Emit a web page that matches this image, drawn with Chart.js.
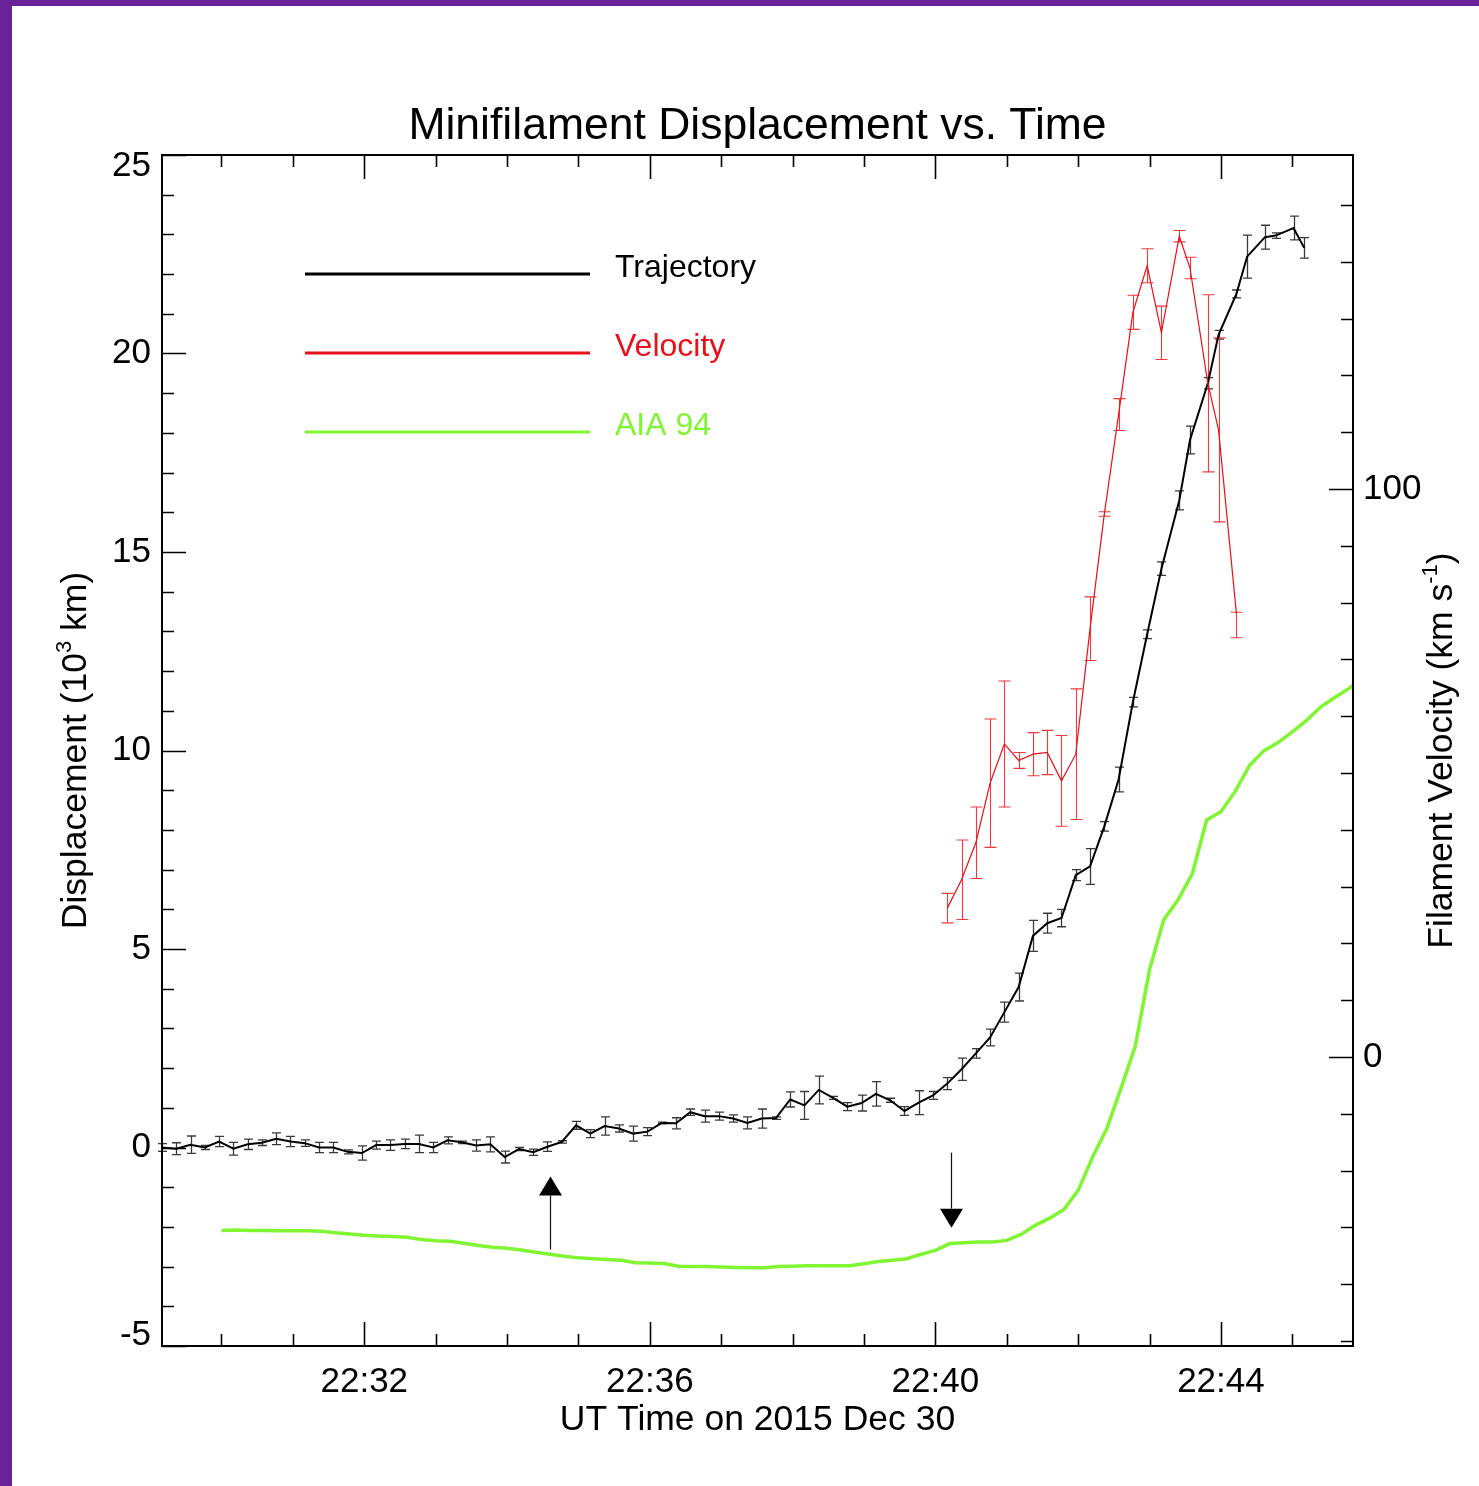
<!DOCTYPE html>
<html>
<head>
<meta charset="utf-8">
<title>Minifilament Displacement vs. Time</title>
<script src="https://cdn.jsdelivr.net/npm/chart.js@4.4.1/dist/chart.umd.min.js"></script>
<style>
  html, body { margin: 0; padding: 0; background: #ffffff; overflow: hidden; }
  canvas { display: block; }
</style>
</head>
<body>
<canvas id="chart" width="1479" height="1486"></canvas>
<script>
// Minifilament eruption of 2015 Dec 30: measured trajectory (with errors),
// derived velocity (with errors) and the AIA 94 light curve.

// ---- Trajectory (displacement in 10^3 km) ----
const trajTimes = [
  '22:29:10','22:29:22','22:29:34','22:29:46','22:29:58','22:30:10','22:30:22','22:30:34','22:30:46','22:30:58',
  '22:31:10','22:31:22','22:31:34','22:31:46','22:31:58','22:32:10','22:32:22','22:32:34','22:32:46','22:32:58',
  '22:33:10','22:33:22','22:33:34','22:33:46','22:33:58','22:34:10','22:34:22','22:34:34','22:34:46','22:34:58',
  '22:35:10','22:35:22','22:35:34','22:35:46','22:35:58','22:36:10','22:36:22','22:36:34','22:36:46','22:36:58',
  '22:37:10','22:37:22','22:37:34','22:37:46','22:37:58','22:38:10','22:38:22','22:38:34','22:38:46','22:38:58',
  '22:39:10','22:39:22','22:39:34','22:39:46','22:39:58','22:40:10','22:40:22','22:40:34','22:40:46','22:40:58',
  '22:41:10','22:41:22','22:41:34','22:41:46','22:41:58','22:42:10','22:42:22','22:42:34','22:42:46','22:42:58',
  '22:43:10','22:43:25','22:43:34','22:43:49','22:43:58','22:44:13','22:44:22','22:44:37','22:44:46','22:45:01',
  '22:45:10'
];
const trajDisp = [
   0.00, -0.03,  0.07,  0.00,  0.15, -0.03,  0.08,  0.12,  0.22,  0.15,
   0.11,  0.00,  0.00, -0.11, -0.14,  0.06,  0.06,  0.09,  0.09,  0.00,
   0.18,  0.13,  0.05,  0.08, -0.24, -0.04, -0.12,  0.02,  0.14,  0.56,
   0.35,  0.54,  0.48,  0.35,  0.40,  0.62,  0.61,  0.89,  0.79,  0.79,
   0.73,  0.62,  0.73,  0.74,  1.21,  1.06,  1.45,  1.25,  1.03,  1.12,
   1.35,  1.19,  0.92,  1.13,  1.31,  1.61,  1.97,  2.37,  2.77,  3.41,
   4.04,  5.33,  5.65,  5.78,  6.86,  7.08,  8.09,  9.27, 11.22, 12.93,
  14.58, 16.30, 17.82, 19.25, 20.47, 21.50, 22.44, 22.93, 22.97, 23.16,
  22.66
];
const trajErr = [
  0.10, 0.15, 0.22, 0.05, 0.13, 0.16, 0.13, 0.07, 0.15, 0.13,
  0.08, 0.13, 0.13, 0.05, 0.18, 0.10, 0.13, 0.12, 0.22, 0.13,
  0.09, 0.03, 0.14, 0.19, 0.15, 0.04, 0.08, 0.12, 0.03, 0.10,
  0.10, 0.23, 0.09, 0.19, 0.10, 0.02, 0.14, 0.08, 0.15, 0.10,
  0.09, 0.15, 0.24, 0.03, 0.19, 0.35, 0.35, 0.04, 0.10, 0.20,
  0.31, 0.05, 0.11, 0.30, 0.10, 0.15, 0.28, 0.12, 0.21, 0.25,
  0.35, 0.39, 0.25, 0.22, 0.14, 0.45, 0.12, 0.31, 0.12, 0.11,
  0.17, 0.24, 0.35, 0.14, 0.11, 0.10, 0.54, 0.30, 0.07, 0.30,
  0.26
];

// ---- Filament velocity (km/s) ----
const velTimes = [
  '22:40:10','22:40:22','22:40:34','22:40:46','22:40:58','22:41:10','22:41:22','22:41:34','22:41:46','22:41:58',
  '22:42:10','22:42:22','22:42:34','22:42:46','22:42:58','22:43:10','22:43:25','22:43:34','22:43:49','22:43:58',
  '22:44:13'
];
const velValues = [
   26.2,  31.2,  37.7,  48.2,  55.1,  52.2,  53.3,  53.6,  48.6,  53.3,
   75.4,  95.6, 113.1, 131.1, 139.3, 127.5, 144.5, 138.9, 118.6, 110.4,
   78.1
];
const velErrLow = [
   2.6,  7.0,  6.3, 11.3, 11.1,  1.4,  3.8,  3.9,  8.0, 11.5,
   5.6,  0.4,  2.8,  3.0,  3.0,  4.7,  1.0,  1.9, 15.6, 16.2,
   4.3
];
const velErrHigh = [
   2.6,  7.0,  6.3, 11.3, 11.1,  1.4,  3.8,  3.9,  8.0, 11.5,
   5.6,  0.4,  2.8,  3.0,  3.0,  4.7,  1.0,  1.9, 15.6, 16.2,
   0.2
];

// ---- AIA 94 light curve, scaled onto the displacement axis ----
const aiaTimes = [
  '22:30:00','22:30:12','22:30:24','22:30:36','22:30:48','22:31:00','22:31:12','22:31:24','22:31:36','22:31:48',
  '22:32:00','22:32:12','22:32:24','22:32:36','22:32:48','22:33:00','22:33:12','22:33:24','22:33:36','22:33:48',
  '22:34:00','22:34:12','22:34:24','22:34:36','22:34:48','22:35:00','22:35:12','22:35:24','22:35:36','22:35:48',
  '22:36:00','22:36:12','22:36:24','22:36:36','22:36:48','22:37:00','22:37:12','22:37:24','22:37:36','22:37:48',
  '22:38:00','22:38:12','22:38:24','22:38:36','22:38:48','22:39:00','22:39:12','22:39:24','22:39:36','22:39:48',
  '22:40:00','22:40:12','22:40:24','22:40:36','22:40:48','22:41:00','22:41:12','22:41:24','22:41:36','22:41:48',
  '22:42:00','22:42:12','22:42:24','22:42:36','22:42:48','22:43:00','22:43:12','22:43:24','22:43:36','22:43:48',
  '22:44:00','22:44:12','22:44:24','22:44:36','22:44:48','22:45:00','22:45:12','22:45:24','22:45:36','22:45:48',
  '22:46:00'
];
const aiaCurve = [
  -2.09, -2.08, -2.09, -2.09, -2.10, -2.10, -2.10, -2.11, -2.15, -2.18,
  -2.21, -2.23, -2.24, -2.26, -2.32, -2.35, -2.36, -2.41, -2.47, -2.51,
  -2.54, -2.58, -2.64, -2.69, -2.74, -2.78, -2.80, -2.82, -2.84, -2.90,
  -2.91, -2.92, -2.99, -3.00, -3.00, -3.01, -3.02, -3.03, -3.03, -3.00,
  -2.99, -2.98, -2.98, -2.98, -2.98, -2.93, -2.87, -2.84, -2.80, -2.69,
  -2.59, -2.42, -2.40, -2.38, -2.38, -2.34, -2.19, -1.96, -1.78, -1.56,
  -1.08, -0.25,  0.47,  1.49,  2.55,  4.48,  5.74,  6.24,  6.90,  8.25,
   8.46,  8.97,  9.62,  9.99, 10.20, 10.47, 10.76, 11.10, 11.34, 11.57,
  11.85
];

// ---- Axes ----
const timeRange = ['22:29:10', '22:45:51'];
const timeTickLabels = ['22:32', '22:36', '22:40', '22:44'];
const dispRange = [-5, 25];
const dispTickLabels = [-5, 0, 5, 10, 15, 20, 25];
const velRange = [-50.9, 158.8];
const velTickLabels = [0, 100];

// Onset / start arrows (time, tail value, tip value on the displacement axis)
const arrowMarks = [
  { time: '22:34:36', from: -2.57, to: -0.73 },
  { time: '22:40:13', from: -0.13, to: -2.02 }
];

const legendEntries = ['Trajectory', 'Velocity', 'AIA 94'];

// ---- Styling ----
const FONT = '"Liberation Sans", Arial, Helvetica, sans-serif';
const BLACK = '#000000';
const RED = '#e8101a';
const RED_ERR = '#ef3b3b';
const GREEN = '#80f531';
const GREY_ERR = '#3a3a3a';
const PURPLE = '#6b2296';

// seconds after 22:00 UT
function toSec(s) {
  const p = s.split(':').map(Number);
  return (p[0] - 22) * 3600 + p[1] * 60 + (p[2] || 0);
}
const toPoints = (times, vals) => times.map((t, i) => ({ x: toSec(t), y: vals[i] }));

function drawErrorBars(ctx, times, vals, lo, hi, xs, ys, color, lw, cap) {
  ctx.save();
  ctx.strokeStyle = color;
  ctx.lineWidth = lw;
  ctx.beginPath();
  for (let i = 0; i < vals.length; i++) {
    const px = Math.round(xs.getPixelForValue(toSec(times[i]))) + 0.5;
    const yl = ys.getPixelForValue(vals[i] - lo[i]);
    const yh = ys.getPixelForValue(vals[i] + hi[i]);
    ctx.moveTo(px, yl); ctx.lineTo(px, yh);
    ctx.moveTo(px - cap, yl); ctx.lineTo(px + cap, yl);
    ctx.moveTo(px - cap, yh); ctx.lineTo(px + cap, yh);
  }
  ctx.stroke();
  ctx.restore();
}

// rotated (bottom-to-top) title made of normal and superscript pieces
function drawRotatedTitle(ctx, parts, baseX, centerY, size) {
  const supSize = Math.round(size * 0.62);
  ctx.save();
  let total = 0;
  const widths = parts.map(p => {
    ctx.font = (p.sup ? supSize : size) + 'px ' + FONT;
    const w = ctx.measureText(p.t).width;
    total += w;
    return w;
  });
  ctx.translate(baseX, centerY);
  ctx.rotate(-Math.PI / 2);
  ctx.fillStyle = BLACK;
  ctx.textBaseline = 'alphabetic';
  ctx.textAlign = 'left';
  let cx = -total / 2;
  parts.forEach((p, i) => {
    ctx.font = (p.sup ? supSize : size) + 'px ' + FONT;
    ctx.fillText(p.t, cx, p.sup ? -Math.round(size * 0.42) : 0);
    cx += widths[i];
  });
  ctx.restore();
}

const decor = {
  id: 'decor',
  beforeDraw(chart) {
    const { ctx, width, height } = chart;
    ctx.save();
    ctx.fillStyle = '#ffffff';
    ctx.fillRect(0, 0, width, height);
    ctx.fillStyle = PURPLE;
    ctx.fillRect(0, 0, width, 6);
    ctx.fillRect(0, 0, 12, height);
    ctx.restore();
  },
  beforeDatasetsDraw(chart) {
    const { ctx, scales } = chart;
    drawErrorBars(ctx, trajTimes, trajDisp, trajErr, trajErr, scales.x, scales.y, GREY_ERR, 1.3, 4.5);
    drawErrorBars(ctx, velTimes, velValues, velErrLow, velErrHigh, scales.x, scales.y2, RED_ERR, 1.1, 6);
  },
  afterDatasetsDraw(chart) {
    const { ctx, chartArea: a, scales } = chart;
    const xs = scales.x, ys = scales.y, vs = scales.y2;
    ctx.save();

    // arrows
    ctx.fillStyle = BLACK;
    ctx.strokeStyle = '#111111';
    ctx.lineWidth = 1.2;
    arrowMarks.forEach(m => {
      const px = Math.round(xs.getPixelForValue(toSec(m.time))) + 0.5;
      const p0 = ys.getPixelForValue(m.from);
      const p1 = ys.getPixelForValue(m.to);
      const dir = Math.sign(p1 - p0);
      const headLen = 19, headHalf = 11.5;
      ctx.beginPath();
      ctx.moveTo(px, p0);
      ctx.lineTo(px, p1 - dir * headLen);
      ctx.stroke();
      ctx.beginPath();
      ctx.moveTo(px, p1);
      ctx.lineTo(px - headHalf, p1 - dir * headLen);
      ctx.lineTo(px + headHalf, p1 - dir * headLen);
      ctx.closePath();
      ctx.fill();
    });

    // plot frame
    ctx.strokeStyle = BLACK;
    ctx.lineWidth = 2;
    ctx.strokeRect(a.left, a.top, a.right - a.left, a.bottom - a.top);

    // tick marks, all pointing inward
    ctx.lineWidth = 1.6;
    ctx.beginPath();
    const majorLen = 24, minorLen = 12;
    // time axis: minor every minute, long ticks at the labelled times
    const majorTimes = timeTickLabels.map(toSec);
    for (let t = Math.ceil(xs.min / 60) * 60; t <= xs.max; t += 60) {
      const px = Math.round(xs.getPixelForValue(t)) + 0.5;
      const len = majorTimes.includes(t) ? majorLen : minorLen;
      ctx.moveTo(px, a.bottom); ctx.lineTo(px, a.bottom - len);
      ctx.moveTo(px, a.top); ctx.lineTo(px, a.top + len);
    }
    // displacement axis: minor every 1, long at labelled values
    for (let v = dispRange[0]; v <= dispRange[1]; v += 1) {
      const py = Math.round(ys.getPixelForValue(v)) + 0.5;
      const len = dispTickLabels.includes(v) ? majorLen : minorLen;
      ctx.moveTo(a.left, py); ctx.lineTo(a.left + len, py);
    }
    // velocity axis: minor every 10, long at labelled values
    for (let v = Math.ceil(velRange[0] / 10) * 10; v <= velRange[1]; v += 10) {
      const py = Math.round(vs.getPixelForValue(v)) + 0.5;
      const len = velTickLabels.includes(v) ? majorLen : minorLen;
      ctx.moveTo(a.right, py); ctx.lineTo(a.right - len, py);
    }
    ctx.stroke();

    // tick labels
    ctx.fillStyle = BLACK;
    ctx.font = '35px ' + FONT;
    ctx.textAlign = 'right';
    ctx.textBaseline = 'middle';
    dispTickLabels.forEach(v => {
      let py = ys.getPixelForValue(v);
      py = Math.min(Math.max(py, a.top + 11), a.bottom - 11);
      ctx.fillText(String(v), a.left - 11, py);
    });
    ctx.textAlign = 'left';
    velTickLabels.forEach(v => {
      ctx.fillText(String(v), a.right + 10, vs.getPixelForValue(v));
    });
    ctx.textAlign = 'center';
    ctx.textBaseline = 'alphabetic';
    timeTickLabels.forEach(s => {
      ctx.fillText(s, xs.getPixelForValue(toSec(s)), a.bottom + 46);
    });

    // titles
    const midX = (a.left + a.right) / 2;
    ctx.font = '35.5px ' + FONT;
    ctx.fillText('UT Time on 2015 Dec 30', midX, a.bottom + 84);
    ctx.font = '44.5px ' + FONT;
    ctx.fillText('Minifilament Displacement vs. Time', midX, a.top - 16);

    const midY = (a.top + a.bottom) / 2;
    drawRotatedTitle(ctx, [
      { t: 'Displacement (10' }, { t: '3', sup: true }, { t: ' km)' }
    ], 86, midY, 35.5);
    drawRotatedTitle(ctx, [
      { t: 'Filament Velocity (km s' }, { t: '-1', sup: true }, { t: ')' }
    ], 1452, midY, 35.5);

    // legend
    const legendColors = [BLACK, RED, GREEN];
    const legendWidths = [2.8, 2.8, 3.2];
    const legendY = [274, 353, 432];
    ctx.font = '32px ' + FONT;
    ctx.textAlign = 'left';
    ctx.textBaseline = 'alphabetic';
    legendEntries.forEach((name, i) => {
      ctx.strokeStyle = legendColors[i];
      ctx.lineWidth = legendWidths[i];
      ctx.beginPath();
      ctx.moveTo(305, legendY[i]);
      ctx.lineTo(590, legendY[i]);
      ctx.stroke();
      ctx.fillStyle = legendColors[i];
      ctx.fillText(name, 615, legendY[i] + 3);
    });

    ctx.restore();
  }
};

new Chart(document.getElementById('chart'), {
  type: 'line',
  data: {
    datasets: [
      {
        label: legendEntries[1],
        data: toPoints(velTimes, velValues),
        yAxisID: 'y2',
        borderColor: RED,
        borderWidth: 1.2,
        pointRadius: 0,
        tension: 0,
        fill: false
      },
      {
        label: legendEntries[0],
        data: toPoints(trajTimes, trajDisp),
        yAxisID: 'y',
        borderColor: BLACK,
        borderWidth: 2,
        pointRadius: 0,
        tension: 0,
        fill: false
      },
      {
        label: legendEntries[2],
        data: toPoints(aiaTimes, aiaCurve),
        yAxisID: 'y',
        borderColor: GREEN,
        borderWidth: 3.5,
        pointRadius: 0,
        tension: 0,
        fill: false,
        clip: 0
      }
    ]
  },
  options: {
    responsive: false,
    devicePixelRatio: 1,
    animation: false,
    events: [],
    layout: { padding: { left: 162, right: 126, top: 155, bottom: 140 } },
    plugins: { legend: { display: false }, tooltip: { enabled: false }, title: { display: false } },
    scales: {
      x: { type: 'linear', min: toSec(timeRange[0]), max: toSec(timeRange[1]), display: false },
      y: { type: 'linear', min: dispRange[0], max: dispRange[1], display: false },
      y2: { type: 'linear', position: 'right', min: velRange[0], max: velRange[1], display: false }
    }
  },
  plugins: [decor]
});
</script>
</body>
</html>
